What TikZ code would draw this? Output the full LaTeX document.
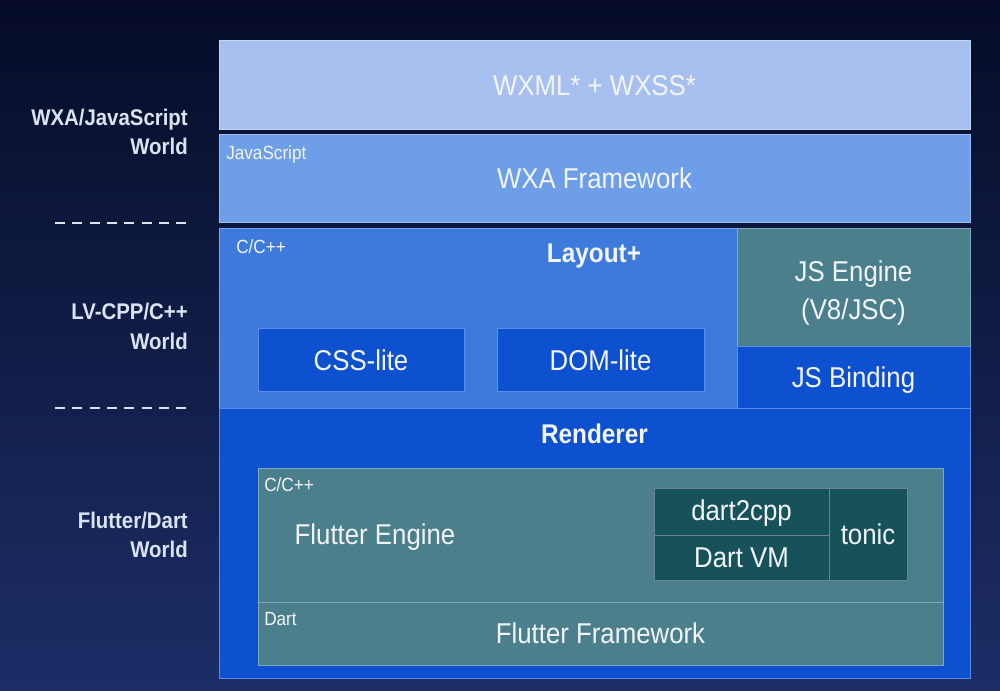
\documentclass[tikz,border=0pt]{standalone}
\usepackage{fontspec}
\setmainfont{Liberation Sans}
\newfontfamily\cond[FakeStretch=0.9]{Liberation Sans}
\usetikzlibrary{positioning}
\definecolor{bgtop}{HTML}{060C27}
\definecolor{bgbot}{HTML}{1C2E67}
\definecolor{wxmlc}{HTML}{A8C0F0}
\definecolor{wxac}{HTML}{6D9EE7}
\definecolor{layc}{HTML}{3E7ADC}
\definecolor{tealc}{HTML}{4A7F8B}
\definecolor{deepc}{HTML}{0D50D0}
\definecolor{dtealc}{HTML}{17525B}
\definecolor{txtc}{HTML}{F2F5FC}
\definecolor{sidec}{HTML}{DBE3F3}
\definecolor{lineblue}{HTML}{5A8DE6}
\definecolor{lineteal}{HTML}{7FA9B8}
\tikzset{
  blk/.style={rectangle, inner sep=0pt, outer sep=0pt, line width=0.6pt},
  lbl/.style={inner sep=0pt, text=txtc, font=\cond\fontsize{21.5pt}{24pt}\selectfont, anchor=base},
  blbl/.style={inner sep=0pt, text=txtc, font=\cond\bfseries\fontsize{20.3pt}{24pt}\selectfont, anchor=base},
  small/.style={inner sep=0pt, text=txtc, font=\cond\fontsize{14.3pt}{16pt}\selectfont, anchor=base west},
  side/.style={inner sep=0pt, text=sidec, font=\cond\bfseries\fontsize{17pt}{20pt}\selectfont, anchor=base east},
  sep/.style={draw=sidec, line width=1.5pt, dash pattern=on 7.5pt off 5.5pt},
}
\begin{document}
\begin{tikzpicture}[x=0.75pt,y=-0.75pt]
\shade[top color=bgtop, bottom color=bgbot] (0,0) rectangle (1000,690);
\useasboundingbox (0,0) rectangle (1000,690);

% top layers
\node[blk, fill=wxmlc, draw=wxmlc!70!white, minimum width=563.25pt, minimum height=66.75pt] (wxml) at (594.5,84.5) {};
\node[lbl] (twxml) at (594.5,95) {WXML* + WXSS*};
\node[blk, fill=wxac, draw=wxac!70!white, minimum width=563.25pt, minimum height=66pt] (wxa) at (594.5,178) {};
\node[small] (tjs) at (226,159) {JavaScript};
\node[lbl] (twxa) at (594.5,188) {WXA Framework};

% LV-CPP layer
\node[blk, fill=layc, draw=lineblue!80!white, minimum width=388.5pt, minimum height=135pt] (lay) at (478,318) {};
\node[small] (tc1) at (236,253) {C/C++};
\node[blbl] (tlay) at (594,262) {Layout+};
\node[blk, fill=deepc, draw=lineblue, minimum width=154.5pt, minimum height=47.25pt] (css) at (361,359.5) {};
\node[lbl] (tcss) at (361,370) {CSS-lite};
\node[blk, fill=deepc, draw=lineblue, minimum width=155.25pt, minimum height=47.25pt] (dom) at (600.5,359.5) {};
\node[lbl] (tdom) at (600.5,370) {DOM-lite};
\node[blk, fill=tealc, draw=lineteal, minimum width=174.75pt, minimum height=88.5pt] (jse) at (853.5,287) {};
\node[lbl] (tjse1) at (853.5,281) {JS Engine};
\node[lbl] (tjse2) at (853.5,319) {(V8/JSC)};
\node[blk, fill=deepc, draw=lineblue, minimum width=174.75pt, minimum height=46.5pt] (jsb) at (853.5,377) {};
\node[lbl] (tjsb) at (853.5,387) {JS Binding};

% Flutter layer
\node[blk, fill=deepc, draw=lineblue, minimum width=563.25pt, minimum height=202.5pt] (ren) at (594.5,543) {};
\node[blbl] (tren) at (594.5,443) {Renderer};
\node[blk, fill=tealc, draw=lineteal, minimum width=513.75pt, minimum height=100.5pt] (fe) at (600.5,535) {};
\node[small] (tc2) at (264,491) {C/C++};
\node[lbl] (tfe) at (375,544) {Flutter Engine};
\node[blk, fill=tealc, draw=lineteal, minimum width=513.75pt, minimum height=47.25pt] (ff) at (600.5,633.5) {};
\node[small] (tdart) at (264,625) {Dart};
\node[lbl] (tff) at (600.5,643) {Flutter Framework};
\node[blk, fill=dtealc, draw=lineteal!80!black, minimum width=131.25pt, minimum height=35.25pt] (d2c) at (741.5,511.5) {};
\node[lbl] (td2c) at (741.5,520) {dart2cpp};
\node[blk, fill=dtealc, draw=lineteal!80!black, minimum width=131.25pt, minimum height=33.75pt] (dvm) at (741.5,557.5) {};
\node[lbl] (tdvm) at (741.5,567) {Dart VM};
\node[blk, fill=dtealc, draw=lineteal!80!black, minimum width=58.5pt, minimum height=69pt] (tonic) at (868,534) {};
\node[lbl] (ttonic) at (868,544) {tonic};

% side labels
\node[side] (s1a) at (188,125) {WXA/JavaScript};
\node[side] (s1b) at (188,154) {World};
\node[side] (s2a) at (188,319) {LV-CPP/C++};
\node[side] (s2b) at (188,349) {World};
\node[side] (s3a) at (188,528) {Flutter/Dart};
\node[side] (s3b) at (188,557) {World};

\coordinate (d1a) at (55,223);
\coordinate (d1b) at (188,223);
\coordinate (d2a) at (55,408);
\coordinate (d2b) at (188,408);
\draw[sep] (d1a) -- (d1b);
\draw[sep] (d2a) -- (d2b);
\end{tikzpicture}
\end{document}
